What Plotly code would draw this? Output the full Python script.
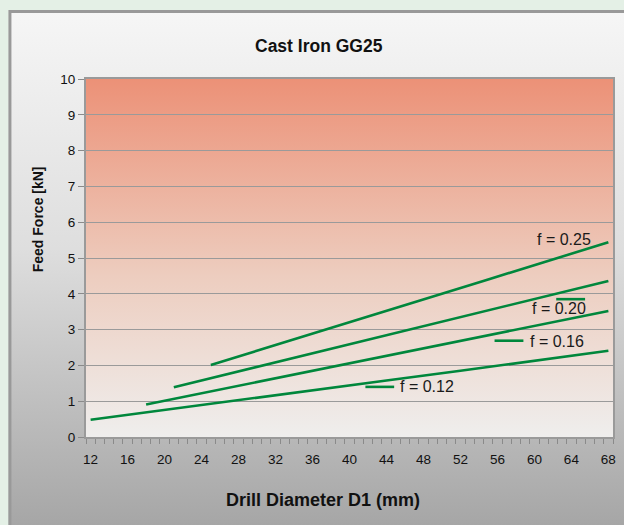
import base64
import plotly.graph_objects as go

# ---- data ----
series_names = ["f = 0.12", "f = 0.16", "f = 0.20", "f = 0.25"]
d_f012 = [12, 20, 28, 36, 44, 52, 60, 68]
v_f012 = [0.48, 0.76, 1.03, 1.30, 1.58, 1.85, 2.13, 2.41]
d_f016 = [18, 28, 38, 48, 58, 68]
v_f016 = [0.91, 1.43, 1.96, 2.48, 3.00, 3.52]
d_f020 = [21, 30, 40, 50, 60, 68]
v_f020 = [1.39, 1.96, 2.59, 3.22, 3.85, 4.36]
d_f025 = [25, 35, 45, 55, 68]
v_f025 = [2.01, 2.80, 3.60, 4.40, 5.44]
x_tick_vals = list(range(12, 69, 4))
y_tick_vals = list(range(0, 11))

GREEN = "#00873C"
SANS = "Liberation Sans, Arial, Helvetica, sans-serif"
PAGE_BG = "#e4f0e6"


def svg_gradient(stops):
    st = "".join(f'<stop offset="{o}" stop-color="{c}"/>' for o, c in stops)
    svg = ('<svg xmlns="http://www.w3.org/2000/svg" width="100" height="100" preserveAspectRatio="none">'
           '<defs><linearGradient id="g" x1="0" y1="0" x2="0" y2="1">' + st +
           '</linearGradient></defs><rect width="100" height="100" fill="url(#g)"/></svg>')
    return "data:image/svg+xml;base64," + base64.b64encode(svg.encode()).decode()


fig = go.Figure()
for name, xs, ys in [(series_names[0], d_f012, v_f012), (series_names[1], d_f016, v_f016),
                     (series_names[2], d_f020, v_f020), (series_names[3], d_f025, v_f025)]:
    fig.add_trace(go.Scatter(x=xs, y=ys, mode="lines", name=name,
                             line=dict(color=GREEN, width=2.6), showlegend=False))

# geometry of plot area in px: x 86..616, y 79..437
L, R, T, B = 86, 8, 79, 88
W, H = 624 - L - R, 525 - T - B

def px_x(p):
    return (p - L) / W

def px_y(p):
    return (525 - B - p) / H

images = [
    dict(source=svg_gradient([(0, "#f6f6f6"), (0.45, "#dedede"), (1, "#a3a3a3")]),
         xref="paper", yref="paper", x=px_x(8), y=px_y(10),
         sizex=px_x(640) - px_x(8), sizey=px_y(10) - px_y(540),
         xanchor="left", yanchor="top", sizing="stretch", layer="below"),
    dict(source=svg_gradient([(0, "#ec9177"), (0.55, "#edcdbf"), (1, "#efeeed")]),
         xref="paper", yref="paper", x=0, y=1, sizex=1, sizey=1,
         xanchor="left", yanchor="top", sizing="stretch", layer="below"),
]

shapes = [
    dict(type="rect", xref="paper", yref="paper", x0=px_x(9.5), y0=px_y(11.5),
         x1=px_x(660), y1=px_y(560), line=dict(color="#999999", width=3), layer="below"),
    # small legend-key style segments next to labels
    dict(type="line", xref="x", yref="y", x0=62.36, x1=65.48, y0=3.85, y1=3.85,
         line=dict(color=GREEN, width=2.6)),
    dict(type="line", xref="x", yref="y", x0=55.69, x1=58.81, y0=2.69, y1=2.69,
         line=dict(color=GREEN, width=2.6)),
    dict(type="line", xref="x", yref="y", x0=41.72, x1=44.83, y0=1.40, y1=1.40,
         line=dict(color=GREEN, width=2.6)),
]

annotations = [
    dict(text="<b>Cast Iron GG25</b>", xref="paper", yref="paper", x=px_x(320), y=px_y(46),
         showarrow=False, font=dict(family=SANS, size=17.5, color="#111"), xanchor="center", yanchor="middle"),
    dict(text="<b>Drill Diameter D1 (mm)</b>", xref="paper", yref="paper", x=px_x(324), y=px_y(500),
         showarrow=False, font=dict(family=SANS, size=18, color="#111"), xanchor="center", yanchor="middle"),
    dict(text="<b>Feed Force [kN]</b>", xref="paper", yref="paper", x=px_x(38), y=px_y(219),
         showarrow=False, textangle=-90, font=dict(family=SANS, size=14, color="#111"),
         xanchor="center", yanchor="middle"),
]
label_pos = [(48.33, 1.40), (62.47, 2.68), (62.68, 3.60), (63.19, 5.53)]
for name, (lx, ly) in zip(series_names, label_pos):
    annotations.append(dict(text=name, x=lx, y=ly, xref="x", yref="y", showarrow=False,
                            font=dict(family=SANS, size=16, color="#1a1a1a"),
                            xanchor="center", yanchor="middle"))

fig.update_layout(
    width=624, height=525,
    margin=dict(l=L, r=R, t=T, b=B),
    paper_bgcolor=PAGE_BG,
    plot_bgcolor="rgba(0,0,0,0)",
    images=images, shapes=shapes, annotations=annotations,
    xaxis=dict(range=[11.5, 68.5], tickvals=x_tick_vals, ticks="", showgrid=False,
               zeroline=False, showline=True, mirror=True, linecolor="#9a9a9a", linewidth=2,
               ticklabelstandoff=9,
               tickfont=dict(family=SANS, size=13.5, color="#111"),
               minor=dict(ticks="outside", tick0=11.5, dtick=1, ticklen=5,
                          tickcolor="#8a8a8a", tickwidth=1, showgrid=False)),
    yaxis=dict(range=[0, 10], tickvals=y_tick_vals, ticks="outside", ticklen=6,
               tickcolor="#8a8a8a", showgrid=True, gridcolor="#9a9a9a", gridwidth=1.2,
               zeroline=False, showline=True, mirror=True, linecolor="#9a9a9a", linewidth=2,
               tickfont=dict(family=SANS, size=13.5, color="#111")),
)

fig.write_html("out.html", config={"displayModeBar": False},
               post_script="document.body.style.margin='0';"
                           "document.body.style.backgroundColor='" + PAGE_BG + "';")
